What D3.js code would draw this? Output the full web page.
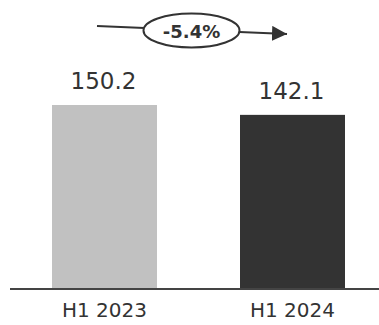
<!DOCTYPE html>
<html><head><meta charset="utf-8">
<script src="https://cdn.jsdelivr.net/npm/d3@7"></script>
<style>body{margin:0;background:#fff}svg{display:block}</style>
</head><body>
<script>
const categories = ["H1 2023", "H1 2024"];
const values = [150.2, 142.1];
const valueLabels = ["150.2", "142.1"];
const colors = ["#c1c1c1", "#333333"];
const changeLabel = "-5.4%";

const W = 379, H = 325;
const svg = d3.select("body").append("svg").attr("width", W).attr("height", H);
const font = "'DejaVu Sans', sans-serif";

const x = d3.scaleBand().domain(categories).range([52, 345]).paddingInner(0.4415).paddingOuter(0);
const y = d3.scaleLinear().domain([0, 150.2]).range([288, 105]);

svg.selectAll("rect.bar").data(values).enter().append("rect")
  .attr("x", (d, i) => x(categories[i]))
  .attr("y", d => y(d))
  .attr("width", x.bandwidth())
  .attr("height", d => y(0) - y(d))
  .attr("fill", (d, i) => colors[i]);

svg.selectAll("text.val").data(values).enter().append("text")
  .attr("x", (d, i) => x(categories[i]) + x.bandwidth() / 2 - 1)
  .attr("y", d => y(d) - 16)
  .attr("text-anchor", "middle")
  .attr("font-family", font).attr("font-size", 23).attr("fill", "#333")
  .text((d, i) => valueLabels[i]);

const axis = svg.append("g").attr("transform", `translate(0,${y(0) + 1})`)
  .call(d3.axisBottom(x).tickSize(0).tickPadding(14));
axis.select(".domain").attr("stroke", "#444").attr("stroke-width", 2).attr("d", `M10,0H379`);
axis.selectAll("text").attr("font-family", font).attr("font-size", 20).attr("fill", "#333");

// change annotation
const x0 = 97, y0 = 26, x1 = 287, y1 = 34;
const cx = 191.5, cy = 30.5;
svg.append("defs").append("marker").attr("id", "arr")
  .attr("viewBox", "0 0 10 10").attr("refX", 10).attr("refY", 5)
  .attr("markerWidth", 15).attr("markerHeight", 15).attr("markerUnits", "userSpaceOnUse")
  .attr("orient", "auto")
  .append("path").attr("d", "M0,0L10,5L0,10Z").attr("fill", "#333");
svg.append("line").attr("x1", x0).attr("y1", y0).attr("x2", x1).attr("y2", y1)
  .attr("stroke", "#333").attr("stroke-width", 2).attr("marker-end", "url(#arr)");
svg.append("ellipse").attr("cx", cx).attr("cy", cy).attr("rx", 48).attr("ry", 17)
  .attr("fill", "#fff").attr("stroke", "#333").attr("stroke-width", 2);
svg.append("text").attr("x", cx).attr("y", cy + 7).attr("text-anchor", "middle")
  .attr("font-family", font).attr("font-weight", "bold").attr("font-size", 18).attr("fill", "#333")
  .text(changeLabel);
</script>
</body></html>
